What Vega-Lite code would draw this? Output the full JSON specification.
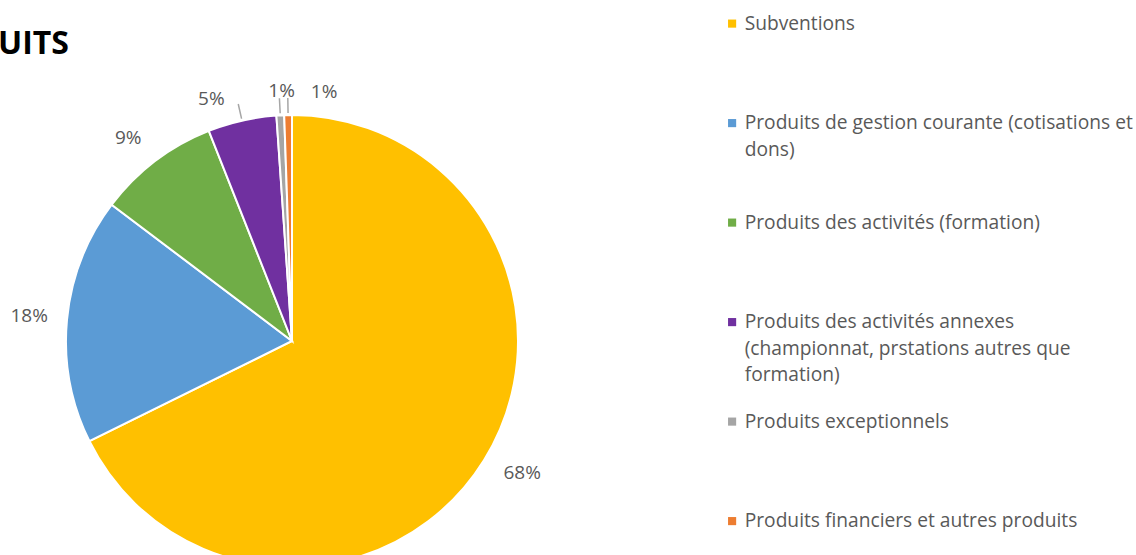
{
  "$schema": "https://vega.github.io/schema/vega-lite/v6.json",
  "width": 584,
  "height": 430,
  "autosize": {"type": "none"},
  "padding": {"left": 0, "top": 126, "right": 552, "bottom": 0},
  "background": "white",
  "view": {"stroke": null},
  "config": {"style": {"guide-label": {"lineHeight": 26.7}}},
  "title": {"text": "UITS", "anchor": "start", "frame": "group", "font": "Open Sans", "fontSize": 32, "fontWeight": "bold", "color": "#000000", "baseline": "alphabetic", "offset": -72, "dx": -2},
  "data": {
    "values": [
      {"category": "Subventions", "value": 0.677, "rank": 1},
      {"category": "Produits de gestion courante (cotisations et dons)", "value": 0.176, "rank": 2},
      {"category": "Produits des activités (formation)", "value": 0.087, "rank": 3},
      {"category": "Produits des activités annexes (championnat, prstations autres que formation)", "value": 0.049, "rank": 4},
      {"category": "Produits exceptionnels", "value": 0.0055, "rank": 5},
      {"category": "Produits financiers et autres produits", "value": 0.0055, "rank": 6}
    ]
  },
  "encoding": {
    "theta": {"field": "value", "type": "quantitative", "stack": true},
    "order": {"field": "rank", "type": "quantitative", "sort": "ascending"},
    "color": {
      "field": "category",
      "type": "nominal",
      "scale": {
        "domain": ["Subventions", "Produits de gestion courante (cotisations et dons)", "Produits des activités (formation)", "Produits des activités annexes (championnat, prstations autres que formation)", "Produits exceptionnels", "Produits financiers et autres produits"],
        "range": ["#FFC000", "#5B9BD5", "#70AD47", "#7030A0", "#A5A5A5", "#ED7D31"]
      },
      "legend": {
        "orient": "none",
        "legendX": 722.5,
        "legendY": -112,
        "title": null,
        "padding": 0,
        "symbolType": "square",
        "symbolSize": 66,
        "symbolStrokeWidth": 0,
        "labelFont": "Open Sans",
        "labelFontSize": 19.2,
        "labelColor": "#595959",
        "labelLimit": 420,
        "labelOffset": 3,
        "labelBaseline": "middle",
        "gridAlign": "all",
        "rowPadding": 25.5,
        "labelExpr": "datum.label == 'Produits de gestion courante (cotisations et dons)' ? ['Produits de gestion courante (cotisations et', 'dons)'] : datum.label == 'Produits des activités annexes (championnat, prstations autres que formation)' ? ['Produits des activités annexes', '(championnat, prstations autres que', 'formation)'] : datum.label"
      }
    }
  },
  "layer": [
    {"mark": {"type": "arc", "radius": 226, "stroke": "white", "strokeWidth": 2}},
    {"mark": {"type": "arc", "radius": 243, "radius2": 228, "padAngle": 0.6, "filled": false, "strokeWidth": 1.5},
     "encoding": {"color": {"value": "#A6A6A6"}, "strokeOpacity": {"condition": {"test": "datum.rank >= 4", "value": 1}, "value": 0}}},
    {"mark": {"type": "text", "radius": 264, "dx": 6, "dy": -7, "font": "Open Sans", "fontSize": 19, "baseline": "middle"},
     "encoding": {"color": {"value": "#595959"}, "text": {"condition": {"test": "datum.category === 'Subventions'", "field": "value", "type": "quantitative", "format": ".0%"}, "value": ""}}},
    {"mark": {"type": "text", "radius": 264, "dx": 0, "dy": 0, "font": "Open Sans", "fontSize": 19, "baseline": "middle"},
     "encoding": {"color": {"value": "#595959"}, "text": {"condition": {"test": "datum.category === 'Produits de gestion courante (cotisations et dons)'", "field": "value", "type": "quantitative", "format": ".0%"}, "value": ""}}},
    {"mark": {"type": "text", "radius": 264, "dx": -4, "dy": 7, "font": "Open Sans", "fontSize": 19, "baseline": "middle"},
     "encoding": {"color": {"value": "#595959"}, "text": {"condition": {"test": "datum.category === 'Produits des activités (formation)'", "field": "value", "type": "quantitative", "format": ".0%"}, "value": ""}}},
    {"mark": {"type": "text", "radius": 256, "dx": -24, "dy": 7.6, "font": "Open Sans", "fontSize": 19, "baseline": "middle"},
     "encoding": {"color": {"value": "#595959"}, "text": {"condition": {"test": "datum.category === 'Produits des activités annexes (championnat, prstations autres que formation)'", "field": "value", "type": "quantitative", "format": ".0%"}, "value": ""}}},
    {"mark": {"type": "text", "radius": 252, "dx": 2.7, "dy": 1.7, "font": "Open Sans", "fontSize": 19, "baseline": "middle"},
     "encoding": {"color": {"value": "#595959"}, "text": {"condition": {"test": "datum.category === 'Produits exceptionnels'", "field": "value", "type": "quantitative", "format": ".0%"}, "value": ""}}},
    {"mark": {"type": "text", "radius": 250, "dx": 36.4, "dy": 1, "font": "Open Sans", "fontSize": 19, "baseline": "middle"},
     "encoding": {"color": {"value": "#595959"}, "text": {"condition": {"test": "datum.category === 'Produits financiers et autres produits'", "field": "value", "type": "quantitative", "format": ".0%"}, "value": ""}}}
  ]
}
